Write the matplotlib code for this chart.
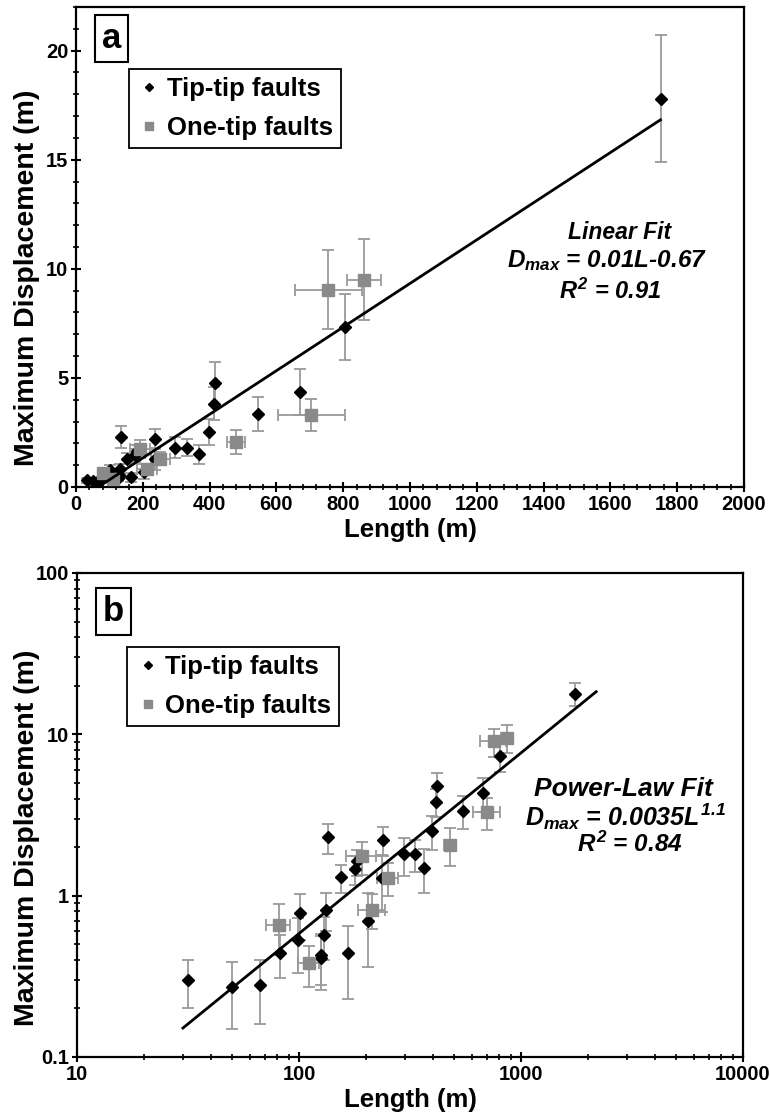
import numpy as np
import matplotlib
matplotlib.use("Agg")
import matplotlib.pyplot as plt
from matplotlib.ticker import MultipleLocator, FixedLocator, FuncFormatter, LogLocator, NullFormatter

plt.rcParams["font.family"] = ["Liberation Sans", "DejaVu Sans"]
plt.rcParams["font.weight"] = "bold"
plt.rcParams["mathtext.fontset"] = "custom"
plt.rcParams["mathtext.rm"] = "Liberation Sans:bold:italic"
plt.rcParams["mathtext.it"] = "Liberation Sans:bold:italic"
plt.rcParams["mathtext.bf"] = "Liberation Sans:bold:italic"

# tip-tip faults: length (m), max displacement (m), displacement error (m)
tip_len = [31.5, 50, 67, 82, 99, 101, 126, 126, 130, 133, 135, 154, 166, 178,
           182, 204, 236, 238, 297, 333, 367, 398, 414, 417, 546, 672, 804, 1750]
tip_disp = [0.30, 0.27, 0.28, 0.44, 0.53, 0.78, 0.43, 0.41, 0.57, 0.82, 2.3, 1.3,
            0.44, 1.46, 1.63, 0.70, 1.29, 2.21, 1.8, 1.8, 1.49, 2.51, 3.82, 4.75,
            3.36, 4.34, 7.33, 17.8]
tip_derr = [0.10, 0.12, 0.12, 0.13, 0.20, 0.25, 0.15, 0.15, 0.17, 0.22, 0.5, 0.26,
            0.21, 0.3, 0.3, 0.34, 0.5, 0.45, 0.47, 0.4, 0.45, 0.6, 0.75, 1.0,
            0.78, 1.05, 1.5, 2.9]

# one-tip faults
one_len = [81, 111, 193, 214, 252, 479, 705, 755, 862]
one_disp = [0.66, 0.38, 1.75, 0.82, 1.29, 2.07, 3.3, 9.05, 9.5]
one_lerr = [10, 12, 30, 30, 28, 28, 100, 100, 50]
one_derr = [0.23, 0.11, 0.4, 0.2, 0.3, 0.55, 0.73, 1.8, 1.85]

# fits
lin_slope, lin_icpt = 0.01, -0.67
lin_range = [67, 1750]
pow_coef, pow_exp = 0.00335, 1.12
pow_range = [30, 2180]

GRAY_MK = "#8a8a8a"
GRAY_ERR = "#9a9a9a"

fig = plt.figure(figsize=(7.7, 11.14), dpi=100)
W, H = 770, 1114
ax1 = fig.add_axes([76 / W, (H - 487) / H, 668 / W, 480 / H])
ax2 = fig.add_axes([77 / W, (H - 1057) / H, 666 / W, 484 / H])


def draw_points(ax):
    ax.errorbar(tip_len, tip_disp, yerr=tip_derr, fmt="none", ecolor=GRAY_ERR,
                elinewidth=1.3, capsize=4, capthick=1.3, zorder=2)
    ax.errorbar(one_len, one_disp, xerr=one_lerr, yerr=one_derr, fmt="none",
                ecolor=GRAY_ERR, elinewidth=1.3, capsize=4, capthick=1.3, zorder=2)
    ax.plot(tip_len, tip_disp, ls="none", marker="D", ms=6.3, color="black",
            mec="black", label="Tip-tip faults", zorder=4)
    ax.plot(one_len, one_disp, ls="none", marker="s", ms=8.0, color=GRAY_MK,
            mec=GRAY_MK, label="One-tip faults", zorder=4)


def style(ax, anchor, ylab_pos):
    for s in ax.spines.values():
        s.set_linewidth(1.6)
    ax.tick_params(which="major", direction="inout", length=7, width=1.5,
                   labelsize=14.5, pad=2)
    ax.tick_params(which="minor", direction="inout", length=4, width=1.2)
    for lab in ax.get_xticklabels() + ax.get_yticklabels():
        lab.set_fontweight("bold")
    ax.set_xlabel("Length (m)", fontsize=18.5, fontweight="bold", labelpad=3)
    ax.set_ylabel("Maximum Displacement (m)", fontsize=20.5, fontweight="bold")
    ax.yaxis.set_label_coords(*ylab_pos)
    leg = ax.legend(loc="upper left", bbox_to_anchor=anchor, borderaxespad=0,
                    fontsize=18.5, markerscale=0.7, handletextpad=0.2, handlelength=1.0,
                    borderpad=0.3, labelspacing=0.6, fancybox=False, framealpha=1)
    leg.get_frame().set_edgecolor("black")
    leg.get_frame().set_linewidth(1.3)


# panel a
draw_points(ax1)
xl = np.array(lin_range)
ax1.plot(xl, lin_slope * xl + lin_icpt, color="black", lw=2, zorder=5)
ax1.set_xlim(0, 2000)
ax1.set_ylim(0, 22)
ax1.xaxis.set_major_locator(MultipleLocator(200))
ax1.xaxis.set_minor_locator(MultipleLocator(40))
ax1.yaxis.set_major_locator(FixedLocator([0, 5, 10, 15, 20]))
ax1.yaxis.set_minor_locator(MultipleLocator(1))

# panel b
draw_points(ax2)
xp = np.array(pow_range, dtype=float)
ax2.plot(xp, pow_coef * xp ** pow_exp, color="black", lw=2, zorder=5)
ax2.set_xscale("log")
ax2.set_yscale("log")
ax2.set_xlim(10, 10000)
ax2.set_ylim(0.1, 100)
fmt = FuncFormatter(lambda v, p: "%g" % v)
for axis in (ax2.xaxis, ax2.yaxis):
    axis.set_major_locator(LogLocator(base=10))
    axis.set_minor_locator(LogLocator(base=10, subs=np.arange(2, 10)))
    axis.set_major_formatter(fmt)
    axis.set_minor_formatter(NullFormatter())

style(ax1, (0.079, 0.871), (-0.054, 0.435))
style(ax2, (0.075, 0.847), (-0.056, 0.452))

box = dict(boxstyle="square,pad=0.2", fc="white", ec="black", lw=1.5)
ax1.text(0.053, 0.935, "a", transform=ax1.transAxes, fontsize=25, fontweight="bold",
         ha="center", va="center", bbox=box)
ax2.text(0.055, 0.921, "b", transform=ax2.transAxes, fontsize=25, fontweight="bold",
         ha="center", va="center", bbox=box)

ax1.text(0.813, 0.531, "Linear Fit", transform=ax1.transAxes, fontsize=16.5,
         fontweight="bold", style="italic", ha="center", va="center")
ax1.text(0.795, 0.471, r"$D_{max}$ = 0.01L-0.67", transform=ax1.transAxes,
         fontsize=17.5, fontweight="bold", style="italic", ha="center", va="center")
ax1.text(0.80, 0.408, r"$R^{2}$ = 0.91", transform=ax1.transAxes, fontsize=17,
         fontweight="bold", style="italic", ha="center", va="center")

ax2.text(0.82, 0.554, "Power-Law Fit", transform=ax2.transAxes, fontsize=19,
         fontweight="bold", style="italic", ha="center", va="center")
ax2.text(0.823, 0.496, r"$D_{max}$ = 0.0035$L^{1.1}$", transform=ax2.transAxes,
         fontsize=18, fontweight="bold", style="italic", ha="center", va="center")
ax2.text(0.83, 0.440, r"$R^{2}$ = 0.84", transform=ax2.transAxes, fontsize=17.5,
         fontweight="bold", style="italic", ha="center", va="center")

fig.savefig("out.png", dpi=100)
